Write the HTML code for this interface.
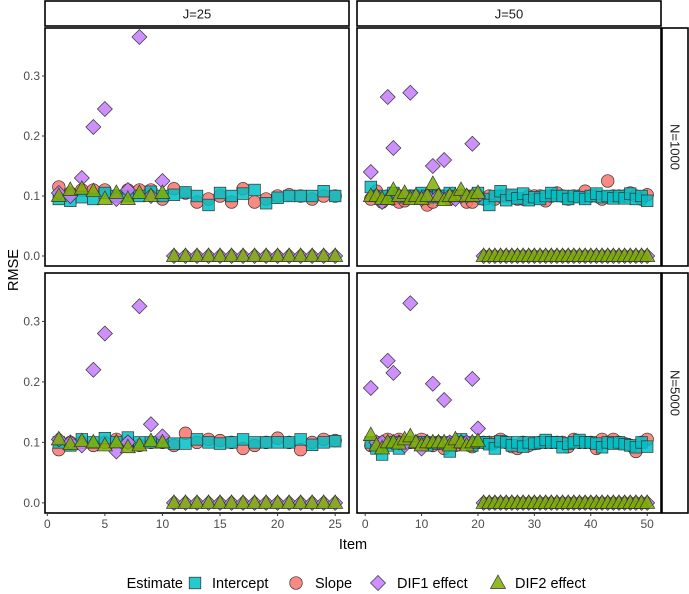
<!DOCTYPE html>
<html><head><meta charset="utf-8"><style>
body{margin:0;background:#fff}
svg{display:block;font-family:"Liberation Sans",Arial,sans-serif}
</style></head><body>
<svg id="chart" width="689" height="594"></svg>
<script>
// ---- data ----
const itemsJ25 = Array.from({length:25},(_,i)=>i+1);
const itemsJ50 = Array.from({length:50},(_,i)=>i+1);
// N=1000, J=25
const int_1000_25 = [0.095,0.092,0.098,0.095,0.105,0.1,0.1,0.1,0.107,0.1,0.102,0.106,0.1,0.085,0.105,0.1,0.104,0.11,0.088,0.097,0.1,0.1,0.1,0.108,0.1];
const slo_1000_25 = [0.115,0.105,0.11,0.11,0.11,0.1,0.11,0.11,0.11,0.095,0.112,0.105,0.09,0.095,0.1,0.09,0.112,0.09,0.095,0.1,0.102,0.1,0.095,0.1,0.1];
const dif1_1000_25 = [0.105,0.1,0.13,0.215,0.245,0.095,0.11,0.365,0.1,0.125,0,0,0,0,0,0,0,0,0,0,0,0,0,0,0];
const dif2_1000_25 = [0.1,0.11,0.112,0.108,0.095,0.105,0.095,0.105,0.1,0.105,0,0,0,0,0,0,0,0,0,0,0,0,0,0,0];
// N=1000, J=50
const int_1000_50 = [0.115,0.1,0.095,0.1,0.105,0.1,0.098,0.1,0.1,0.105,0.1,0.098,0.1,0.1,0.105,0.1,0.1,0.1,0.1,0.105,0.095,0.085,0.1,0.108,0.093,0.102,0.096,0.104,0.093,0.098,0.095,0.1,0.105,0.1,0.1,0.095,0.1,0.098,0.095,0.1,0.104,0.098,0.1,0.096,0.1,0.096,0.104,0.095,0.1,0.092];
const slo_1000_50 = [0.095,0.108,0.09,0.1,0.095,0.09,0.092,0.1,0.1,0.1,0.085,0.09,0.1,0.1,0.095,0.1,0.1,0.09,0.09,0.1,0.095,0.1,0.095,0.1,0.1,0.1,0.095,0.095,0.1,0.1,0.1,0.092,0.1,0.105,0.1,0.095,0.1,0.1,0.108,0.1,0.1,0.095,0.125,0.1,0.1,0.1,0.105,0.1,0.095,0.102];
const dif1_1000_50 = [0.14,0.1,0.09,0.265,0.18,0.1,0.1,0.272,0.1,0.095,0.1,0.15,0.1,0.16,0.1,0.095,0.1,0.1,0.187,0.1,0,0,0,0,0,0,0,0,0,0,0,0,0,0,0,0,0,0,0,0,0,0,0,0,0,0,0,0,0,0];
const dif2_1000_50 = [0.1,0.1,0.095,0.095,0.11,0.1,0.105,0.095,0.1,0.095,0.1,0.12,0.1,0.093,0.1,0.1,0.11,0.1,0.1,0.105,0,0,0,0,0,0,0,0,0,0,0,0,0,0,0,0,0,0,0,0,0,0,0,0,0,0,0,0,0,0];
// N=5000, J=25
const int_5000_25 = [0.1,0.095,0.105,0.1,0.107,0.1,0.108,0.1,0.1,0.1,0.098,0.098,0.105,0.1,0.098,0.1,0.105,0.1,0.1,0.1,0.1,0.105,0.096,0.1,0.102];
const slo_5000_25 = [0.088,0.1,0.1,0.095,0.1,0.105,0.1,0.095,0.1,0.1,0.095,0.115,0.1,0.105,0.103,0.1,0.09,0.095,0.1,0.107,0.1,0.088,0.1,0.105,0.103];
const dif1_5000_25 = [0.105,0.1,0.095,0.22,0.28,0.085,0.1,0.325,0.13,0.11,0,0,0,0,0,0,0,0,0,0,0,0,0,0,0];
const dif2_5000_25 = [0.105,0.097,0.102,0.1,0.095,0.1,0.092,0.095,0.102,0.1,0,0,0,0,0,0,0,0,0,0,0,0,0,0,0];
// N=5000, J=50
const int_5000_50 = [0.1,0.09,0.08,0.095,0.1,0.09,0.1,0.1,0.1,0.1,0.095,0.1,0.098,0.1,0.085,0.1,0.105,0.1,0.095,0.1,0.1,0.097,0.09,0.102,0.1,0.095,0.1,0.093,0.1,0.098,0.1,0.104,0.1,0.1,0.092,0.098,0.1,0.104,0.1,0.1,0.098,0.092,0.1,0.098,0.1,0.097,0.095,0.092,0.1,0.093];
const slo_5000_50 = [0.095,0.1,0.1,0.105,0.1,0.105,0.1,0.1,0.1,0.105,0.1,0.095,0.1,0.09,0.1,0.095,0.1,0.1,0.093,0.1,0.1,0.1,0.1,0.105,0.1,0.093,0.09,0.1,0.095,0.098,0.1,0.1,0.1,0.1,0.1,0.093,0.105,0.1,0.1,0.1,0.09,0.105,0.1,0.105,0.1,0.098,0.095,0.085,0.1,0.105];
const dif1_5000_50 = [0.19,0.1,0.1,0.235,0.215,0.1,0.095,0.33,0.1,0.09,0.1,0.197,0.1,0.17,0.1,0.1,0.1,0.1,0.205,0.123,0,0,0,0,0,0,0,0,0,0,0,0,0,0,0,0,0,0,0,0,0,0,0,0,0,0,0,0,0,0];
const dif2_5000_50 = [0.112,0.095,0.09,0.1,0.1,0.098,0.105,0.11,0.1,0.095,0.1,0.1,0.1,0.1,0.095,0.105,0.1,0.095,0.1,0.102,0,0,0,0,0,0,0,0,0,0,0,0,0,0,0,0,0,0,0,0,0,0,0,0,0,0,0,0,0,0];
const yTicks = [0,0.1,0.2,0.3];
const yTickLabels = ["0.0","0.1","0.2","0.3"];
const xTicks = [0,10,20,30,40,50];
const xTicks25 = [0,5,10,15,20,25];
const colTitles = ["J=25","J=50"];
const rowTitles = ["N=1000","N=5000"];

const NS="http://www.w3.org/2000/svg";
const svg=document.getElementById('chart');
function mk(tag,attrs,parent){const e=document.createElementNS(NS,tag);for(const k in attrs)e.setAttribute(k,attrs[k]);(parent||svg).appendChild(e);return e;}

const cols=[{x0:45,x1:349,lo:-0.2,hi:26.2,ticks:xTicks25,items:itemsJ25},{x0:357,x1:661,lo:-1.45,hi:52.45,ticks:xTicks.filter(t=>t<=50),items:itemsJ50}];
const rows=[{y0:28,y1:266},{y0:273,y1:513}];
const yLo=-0.0167,yHi=0.38;
const series=[
 [[slo_1000_25,int_1000_25,dif1_1000_25,dif2_1000_25],[slo_1000_50,int_1000_50,dif1_1000_50,dif2_1000_50]],
 [[slo_5000_25,int_5000_25,dif1_5000_25,dif2_5000_25],[slo_5000_50,int_5000_50,dif1_5000_50,dif2_5000_50]]
];
const shapeKinds=['circle','square','diamond','triangle'];
const fills=['#F8766D','#00BFC4','#C77CFF','#7CAE00'];
const names=['slope','intercept','dif1','dif2'];

function drawShape(kind,cx,cy,fill,g,legend){
  let e;
  if(kind==='circle') e=mk('circle',{cx,cy,r:6.3},g);
  else if(kind==='square') e=mk('rect',{x:cx-5.8,y:cy-5.8,width:11.6,height:11.6},g);
  else if(kind==='diamond') e=mk('polygon',{points:`${cx},${cy-7.5} ${cx+7.5},${cy} ${cx},${cy+7.5} ${cx-7.5},${cy}`},g);
  else e=mk('polygon',{points:`${cx},${cy-8} ${cx+7.5},${cy+5.5} ${cx-7.5},${cy+5.5}`},g);
  e.setAttribute('fill',fill);e.setAttribute('fill-opacity','0.85');
  e.setAttribute('stroke','#333');e.setAttribute('stroke-width','0.7');
  return e;
}

rows.forEach((r,ri)=>{
  cols.forEach((c,ci)=>{
    const xs=v=>c.x0+(v-c.lo)/(c.hi-c.lo)*(c.x1-c.x0);
    const ys=v=>r.y1-(v-yLo)/(yHi-yLo)*(r.y1-r.y0);
    const g=mk('g',{});
    
    
    mk('rect',{x:c.x0,y:r.y0,width:c.x1-c.x0,height:r.y1-r.y0,fill:'#fff'},g);
    series[ri][ci].forEach((arr,si)=>{
      arr.forEach((v,i)=>{
        const m=drawShape(shapeKinds[si],xs(c.items[i]),ys(v),fills[si],g);
        
        
      });
    });
    const b=mk('rect',{x:c.x0,y:r.y0,width:c.x1-c.x0,height:r.y1-r.y0,fill:'none',stroke:'#000','stroke-width':1.6},g);
    
    
    if(ci===0){
      yTicks.forEach((t,ti)=>{
        const y=ys(t);
        mk('line',{x1:c.x0-3,x2:c.x0,y1:y,y2:y,stroke:'#333','stroke-width':1});
        const tx=mk('text',{x:c.x0-5,y:y+4,'text-anchor':'end','font-size':12,fill:'#4d4d4d'});
        tx.textContent=yTickLabels[ti];
        
        
      });
    }
    if(ri===1){
      c.ticks.forEach(t=>{
        const x=xs(t);
        mk('line',{x1:x,x2:x,y1:r.y1,y2:r.y1+3,stroke:'#333','stroke-width':1});
        const tx=mk('text',{x:x,y:r.y1+15,'text-anchor':'middle','font-size':12,fill:'#4d4d4d'});
        tx.textContent=String(t);
        
        
      });
    }
  });
});
// strips
cols.forEach((c,ci)=>{
  const s=mk('rect',{x:c.x0,y:1,width:c.x1-c.x0,height:25,fill:'#fff',stroke:'#000','stroke-width':1.6});
  
  
  const t=mk('text',{x:(c.x0+c.x1)/2,y:18.5,'text-anchor':'middle','font-size':13,fill:'#1a1a1a'});
  t.textContent=colTitles[ci];
  
  
});
rows.forEach((r,ri)=>{
  const s=mk('rect',{x:662,y:r.y0,width:26,height:r.y1-r.y0,fill:'#fff',stroke:'#000','stroke-width':1.6});
  
  
  const cy=(r.y0+r.y1)/2;
  const t=mk('text',{x:675,y:cy,'text-anchor':'middle','font-size':13,fill:'#1a1a1a',transform:`rotate(90 675 ${cy}) translate(0 4.5)`});
  t.textContent=rowTitles[ri];
  
  
});
// axis titles
const yt=mk('text',{x:13,y:270,'text-anchor':'middle','font-size':14.5,fill:'#000',transform:'rotate(-90 13 270) translate(0 5)'});
yt.textContent='RMSE';


const xt=mk('text',{x:353,y:549,'text-anchor':'middle','font-size':14.5,fill:'#000'});
xt.textContent='Item';


// legend
const lg=mk('g',{});


const lt=mk('text',{x:183,y:588,'text-anchor':'end','font-size':14.5,fill:'#000'},lg);
lt.textContent='Estimate';


const legItems=[{k:'square',f:'#00BFC4',sx:195,tx:212,l:'Intercept'},{k:'circle',f:'#F8766D',sx:296,tx:315,l:'Slope'},{k:'diamond',f:'#C77CFF',sx:378,tx:397,l:'DIF1 effect'},{k:'triangle',f:'#7CAE00',sx:498,tx:515,l:'DIF2 effect'}];
legItems.forEach(it=>{
  const m=drawShape(it.k,it.sx,583,it.f,lg);
  
  
  const t=mk('text',{x:it.tx,y:588,'font-size':14.5,fill:'#000'},lg);
  t.textContent=it.l;
  
  
});
</script>
</body></html>
